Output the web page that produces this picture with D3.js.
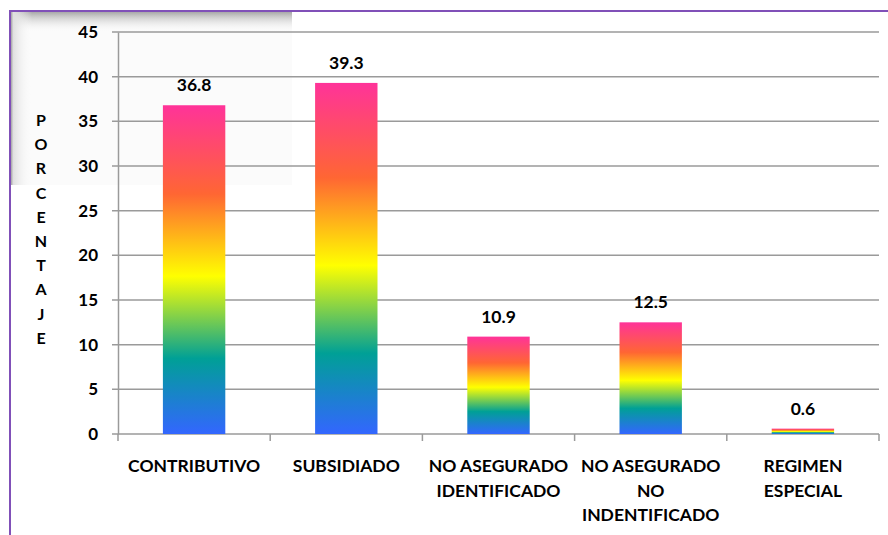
<!DOCTYPE html>
<html>
<head>
<meta charset="utf-8">
<script src="https://cdn.jsdelivr.net/npm/d3@7"></script>
<style>
  html, body { margin: 0; padding: 0; background: #fff; }
  svg { display: block; }
  text { font-family: Lato, "Open Sans", sans-serif; font-weight: bold; fill: #000; }
</style>
</head>
<body>
<script>
const categories = [
  ["CONTRIBUTIVO"],
  ["SUBSIDIADO"],
  ["NO ASEGURADO", "IDENTIFICADO"],
  ["NO ASEGURADO", "NO", "INDENTIFICADO"],
  ["REGIMEN", "ESPECIAL"]
];
const values = [36.8, 39.3, 10.9, 12.5, 0.6];
const yTicks = [0, 5, 10, 15, 20, 25, 30, 35, 40, 45];
const yTitle = "PORCENTAJE";

const W = 888, H = 535;
const margin = { left: 118, right: 9, top: 32, bottom: 101 };

const svg = d3.select("body").append("svg").attr("width", W).attr("height", H);
const defs = svg.append("defs");

// rainbow gradient per bar
const grad = defs.append("linearGradient").attr("id", "rainbow")
  .attr("x1", 0).attr("y1", 0).attr("x2", 0).attr("y2", 1);
[["0%", "#FF3399"], ["27%", "#FF6633"], ["52%", "#FFFF00"], ["77%", "#00A096"], ["100%", "#3366FF"]]
  .forEach(([o, c]) => grad.append("stop").attr("offset", o).attr("stop-color", c));

// shadow box top-left
const shX = defs.append("linearGradient").attr("id", "shX").attr("x1", 0).attr("x2", 1).attr("y1", 0).attr("y2", 0);
shX.append("stop").attr("offset", "0").attr("stop-color", "#8a8a8a");
shX.append("stop").attr("offset", "0.15").attr("stop-color", "#e0e0e0");
shX.append("stop").attr("offset", "1").attr("stop-color", "#fcfcfc").attr("stop-opacity", 0);
const shY = defs.append("linearGradient").attr("id", "shY").attr("x1", 0).attr("x2", 0).attr("y1", 0).attr("y2", 1);
shY.append("stop").attr("offset", "0").attr("stop-color", "#a8a8a8");
shY.append("stop").attr("offset", "1").attr("stop-color", "#fcfcfc").attr("stop-opacity", 0);

svg.append("rect").attr("x", 10).attr("y", 12).attr("width", 282).attr("height", 173).attr("fill", "#fbfbfb");
svg.append("rect").attr("x", 10).attr("y", 12).attr("width", 282).attr("height", 20).attr("fill", "url(#shY)");
svg.append("rect").attr("x", 10).attr("y", 12).attr("width", 22).attr("height", 173).attr("fill", "url(#shX)");

// purple border
svg.append("path").attr("d", `M10,${H} L10,11 L${W},11`).attr("fill", "none")
  .attr("stroke", "#8050B8").attr("stroke-width", 2);

const x = d3.scaleBand().domain(d3.range(categories.length))
  .range([margin.left, W - margin.right]).paddingInner(0.59).paddingOuter(0.295);
const y = d3.scaleLinear().domain([0, 45]).range([H - margin.bottom, margin.top]);

// gridlines
svg.append("g").selectAll("line").data(yTicks).join("line")
  .attr("x1", margin.left - 6).attr("x2", W - margin.right)
  .attr("y1", d => y(d)).attr("y2", d => y(d))
  .attr("stroke", "#9a9a9a").attr("stroke-width", 1.5);

// y axis
const yAxis = d3.axisLeft(y).tickValues(yTicks).tickSize(0).tickPadding(20);
const gy = svg.append("g").attr("transform", `translate(${margin.left},0)`).call(yAxis);
gy.select(".domain").attr("stroke", "#9a9a9a").attr("stroke-width", 1.5);
gy.selectAll("text").style("font-size", "17px").style("font-family", "Lato, sans-serif").style("font-weight", "bold");

// x axis ticks at band boundaries
const step = x.step();
const bounds = d3.range(categories.length + 1).map(i => margin.left + i * step);
svg.append("g").selectAll("line").data(bounds).join("line")
  .attr("x1", d => d).attr("x2", d => d)
  .attr("y1", y(0)).attr("y2", y(0) + 7)
  .attr("stroke", "#9a9a9a").attr("stroke-width", 1.5);

// bars
svg.append("g").selectAll("rect").data(values).join("rect")
  .attr("x", (d, i) => x(i)).attr("width", x.bandwidth())
  .attr("y", d => y(d)).attr("height", d => y(0) - y(d))
  .attr("fill", "url(#rainbow)");

// value labels
svg.append("g").selectAll("text").data(values).join("text")
  .attr("x", (d, i) => x(i) + x.bandwidth() / 2)
  .attr("y", d => y(d) - 14)
  .attr("text-anchor", "middle").style("font-size", "17.5px")
  .text(d => d.toFixed(1));

// category labels
const cg = svg.append("g").selectAll("text").data(categories).join("text")
  .attr("text-anchor", "middle").style("font-size", "17.5px")
  .attr("x", (d, i) => x(i) + x.bandwidth() / 2).attr("y", 472);
cg.selectAll("tspan").data(d => d).join("tspan")
  .attr("x", function () { return d3.select(this.parentNode).attr("x"); })
  .attr("dy", (d, i) => i === 0 ? 0 : 24.5)
  .text(d => d);

// y title stacked letters
svg.append("g").selectAll("text").data(yTitle.split("")).join("text")
  .attr("x", 41).attr("y", (d, i) => 126 + i * 24.2)
  .attr("text-anchor", "middle").style("font-size", "16px")
  .text(d => d);
</script>
</body>
</html>
